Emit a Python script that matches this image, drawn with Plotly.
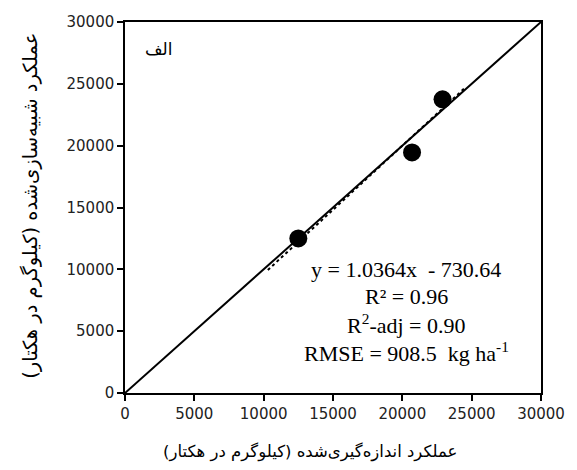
import plotly.graph_objects as go

measured = [12500, 20700, 22900]
simulated = [12500, 19450, 23750]
slope = 1.0364
intercept = -730.64
trend_x = [10300, 24500]
one_to_one = [0, 30000]
tick_vals = [0, 5000, 10000, 15000, 20000, 25000, 30000]
tick_text = ["0", "5000", "10000", "15000", "20000", "25000", "30000"]
stats_lines = [
    "y = 1.0364x  - 730.64",
    "R² = 0.96",
    "R<sup>2</sup>-adj = 0.90",
    "RMSE = 908.5  kg ha<sup>-1</sup>",
]
stats_y = [9950, 7840, 5580, 3320]
x_title = "عملکرد اندازه‌گیری‌شده (کیلوگرم در هکتار)"
y_title = "عملکرد شبیه‌سازی‌شده (کیلوگرم در هکتار)"
panel_label = "الف"

fig = go.Figure()
fig.add_trace(go.Scatter(x=one_to_one, y=one_to_one, mode="lines",
                         line=dict(color="black", width=2), showlegend=False))
fig.add_trace(go.Scatter(x=trend_x, y=[slope * v + intercept for v in trend_x],
                         mode="lines", line=dict(color="black", width=2, dash="dot"),
                         showlegend=False))
fig.add_trace(go.Scatter(x=measured, y=simulated, mode="markers",
                         marker=dict(color="black", size=18), showlegend=False))

serif = "Liberation Serif, Times New Roman, serif"
axis_common = dict(range=[0, 30000], tickvals=tick_vals, ticktext=tick_text,
                   showline=True, linecolor="black", linewidth=1.5, mirror=True,
                   ticks="outside", ticklen=6, tickcolor="black", tickwidth=1.5,
                   showgrid=False, zeroline=False,
                   tickfont=dict(family="DejaVu Sans", size=15, color="#222"))
fig.update_xaxes(**axis_common)
fig.update_yaxes(**axis_common)

for txt, yv in zip(stats_lines, stats_y):
    fig.add_annotation(x=20300, y=yv, xref="x", yref="y", text=txt, showarrow=False,
                       xanchor="center", yanchor="middle",
                       font=dict(family=serif, size=22, color="black"))

fig.add_annotation(x=2470, y=27800, xref="x", yref="y", text=panel_label, showarrow=False,
                   xanchor="center", yanchor="middle",
                   font=dict(family="DejaVu Sans", size=17, color="black"))
fig.add_annotation(x=0.445, y=-0.159, xref="paper", yref="paper", text=x_title,
                   xanchor="center", yanchor="middle",
                   showarrow=False, font=dict(family="DejaVu Sans", size=16.5, color="black"))
fig.add_annotation(x=-0.228, y=0.505, xref="paper", yref="paper", text=y_title, textangle=-90,
                   xanchor="center", yanchor="middle",
                   showarrow=False, font=dict(family="DejaVu Sans", size=19.5, color="black"))

fig.update_layout(width=577, height=470, margin=dict(l=125, r=27, t=22, b=77),
                  plot_bgcolor="white", paper_bgcolor="white")
fig.write_html("out.html")
